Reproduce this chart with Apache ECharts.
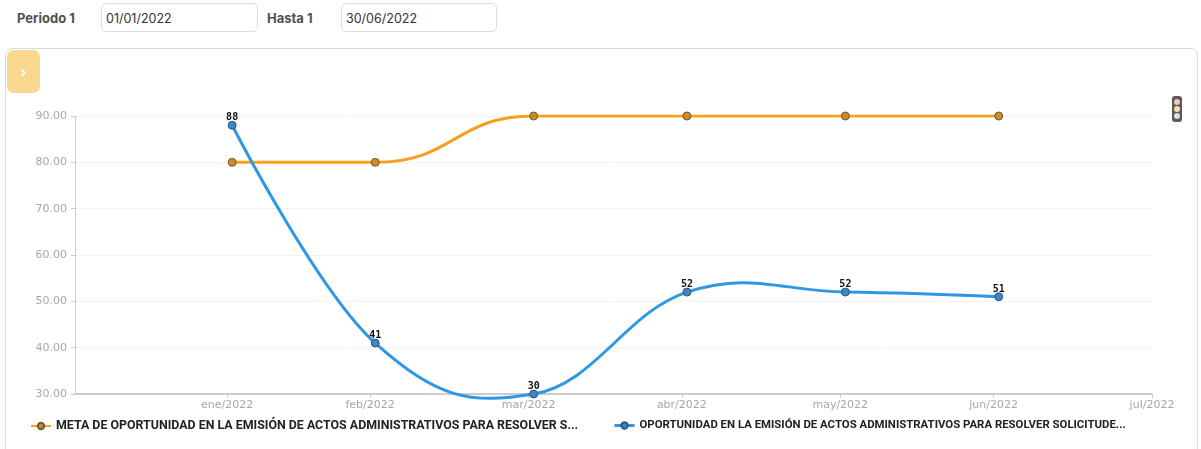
<!DOCTYPE html>
<html>
<head>
<meta charset="utf-8">
<script src="https://cdn.jsdelivr.net/npm/echarts@6/dist/echarts.min.js"></script>
<style>
  html, body { margin: 0; padding: 0; background: #fff; width: 1201px; height: 449px; overflow: hidden; font-family: Inter, "Open Sans", sans-serif; }
  .lbl { position: absolute; top: 10px; font-size: 13px; font-weight: 700; color: #505050; }
  .inp { position: absolute; top: 3px; height: 29px; border: 1px solid #dcdcdc; border-radius: 5px; box-sizing: border-box; font-size: 12.5px; color: #333; padding: 7px 0 0 4px; }
  #card { position: absolute; left: 5px; top: 48px; width: 1193px; height: 430px; border: 1px solid #dadada; border-radius: 7px; box-sizing: border-box; }
  #tab { position: absolute; left: 7px; top: 50px; width: 33px; height: 43px; background: #f9d78d; border-radius: 7px; z-index: 3; color: #fff; font-weight: 700; font-size: 14px; text-align: center; line-height: 43px; }
  #light { position: absolute; left: 1172px; top: 96px; width: 10px; height: 26px; background: #5a5a5a; border-radius: 3px; z-index: 3; }
  #light div { position: absolute; left: 2px; width: 6px; height: 6px; border-radius: 3px; }
  #chart { position: absolute; left: 0; top: 0; width: 1201px; height: 449px; z-index: 2; }
</style>
</head>
<body>
<div class="lbl" style="left:17px;">Periodo 1</div>
<div class="inp" style="left:101px;width:157px;">01/01/2022</div>
<div class="lbl" style="left:267px;">Hasta 1</div>
<div class="inp" style="left:341px;width:156px;">30/06/2022</div>
<div id="card"></div>
<div id="tab">&#8250;</div>
<div id="light"><div style="top:3px;background:#f2c4c4;"></div><div style="top:10px;background:#efe3ae;"></div><div style="top:17px;background:#cfe6cf;"></div></div>
<div id="chart"></div>
<script>
// ---- data ----
// The reference's time axis puts each month's tick one month-length later,
// so point dates are kept as drawn on that axis.
const pointDates = ['2022-02-02', '2022-03-02', '2022-04-02', '2022-05-02', '2022-06-02', '2022-07-02'];
const metaValues = [80, 80, 90, 90, 90, 90];
const oportunidadValues = [88, 41, 30, 52, 52, 51];
const seriesNames = [
  'META DE OPORTUNIDAD EN LA EMISIÓN DE ACTOS ADMINISTRATIVOS PARA RESOLVER S...',
  'OPORTUNIDAD EN LA EMISIÓN DE ACTOS ADMINISTRATIVOS PARA RESOLVER SOLICITUDE...'
];
const monthAbbr = ['ene', 'feb', 'mar', 'abr', 'may', 'jun', 'jul', 'ago', 'sep', 'oct', 'nov', 'dic'];
const xMin = '2022-01-02T06:00:00Z';
const xMax = '2022-08-01T00:00:00Z';
const yMin = 30, yMax = 90, yInterval = 10;

const ORANGE = '#f7a01c', BLUE = '#2c97e2';

function pairs(dates, vals) { return dates.map((d, i) => [d + 'T00:00:00Z', vals[i]]); }
const oportunidadData = pairs(pointDates, oportunidadValues);

// Spline through the points (control points collinear through each point, smoothing 1.5)
function splineRender(params, api) {
  if (params.dataIndex !== 0) return null;
  const pts = oportunidadData.map(d => api.coord([new Date(d[0]).getTime(), d[1]]));
  const n = pts.length, s = 1.5, den = s + 1;
  const L = [], R = [];
  for (let i = 0; i < n; i++) {
    if (i === 0 || i === n - 1) { L[i] = pts[i].slice(); R[i] = pts[i].slice(); continue; }
    const [px, py] = pts[i], [lx, ly] = pts[i - 1], [nx, ny] = pts[i + 1];
    let lcx = (s * px + lx) / den, lcy = (s * py + ly) / den;
    let rcx = (s * px + nx) / den, rcy = (s * py + ny) / den;
    const corr = ((rcy - lcy) * (rcx - px)) / (rcx - lcx) + py - rcy;
    lcy += corr; rcy += corr;
    L[i] = [lcx, lcy]; R[i] = [rcx, rcy];
  }
  const children = [];
  for (let i = 1; i < n; i++) {
    children.push({
      type: 'bezierCurve',
      shape: { x1: pts[i - 1][0], y1: pts[i - 1][1], cpx1: R[i - 1][0], cpy1: R[i - 1][1], cpx2: L[i][0], cpy2: L[i][1], x2: pts[i][0], y2: pts[i][1] },
      style: { stroke: BLUE, lineWidth: 3, fill: null, lineCap: 'round' }
    });
  }
  return { type: 'group', children: children };
}

const chart = echarts.init(document.getElementById('chart'), null, { renderer: 'canvas' });
const legendText = { fontFamily: 'Roboto', fontSize: 12.4, fontWeight: 'bold', color: '#222' };
chart.setOption({
  useUTC: true,
  animation: false,
  grid: { left: 75, right: 49, top: 116, bottom: 55, containLabel: false },
  legend: [
    { data: [seriesNames[0]], left: 30, top: 420, padding: 0, itemWidth: 20, itemHeight: 8, textStyle: legendText },
    { data: [{ name: seriesNames[1], lineStyle: { color: BLUE, width: 3, opacity: 1 } }], left: 613, top: 420, padding: 0, itemWidth: 20, itemHeight: 8,
      textStyle: Object.assign({}, legendText, { fontSize: 11.4 }) }
  ],
  xAxis: {
    type: 'time',
    min: xMin, max: xMax,
    splitNumber: 7,
    axisLine: { lineStyle: { color: '#cccccc', width: 2 } },
    axisTick: { show: true, length: 4, lineStyle: { color: '#cccccc' } },
    splitLine: { show: false },
    axisLabel: {
      showMinLabel: false, showMaxLabel: true, hideOverlap: false,
      color: '#a6a6a6', fontFamily: 'DejaVu Sans', fontSize: 11, margin: 6,
      formatter: function (v) {
        const d = new Date(v);
        let m = d.getUTCMonth() - 1, y = d.getUTCFullYear();
        if (m < 0) { m = 11; y -= 1; }
        return monthAbbr[m] + '/' + y;
      }
    }
  },
  yAxis: {
    type: 'value', min: yMin, max: yMax, interval: yInterval,
    axisLine: { show: true, lineStyle: { color: '#cccccc' } },
    axisTick: { show: true, length: 4, lineStyle: { color: '#cccccc' } },
    splitLine: { lineStyle: { color: '#f2f2f2' } },
    axisLabel: { color: '#a6a6a6', fontFamily: 'DejaVu Sans', fontSize: 11, margin: 8, formatter: v => v.toFixed(2) }
  },
  series: [
    {
      name: seriesNames[0], type: 'line', data: pairs(pointDates, metaValues),
      smooth: 0.5, smoothMonotone: 'x',
      symbol: 'circle', symbolSize: 8,
      lineStyle: { color: ORANGE, width: 3 },
      itemStyle: { color: '#cf8a27', borderColor: '#6e5a3c', borderWidth: 1 },
      z: 2
    },
    {
      type: 'custom', data: oportunidadData, renderItem: splineRender,
      silent: true, clip: false, z: 3
    },
    {
      name: seriesNames[1], type: 'line', data: oportunidadData,
      symbol: 'circle', symbolSize: 8,
      lineStyle: { color: BLUE, width: 3, opacity: 0 },
      itemStyle: { color: '#3d86c0', borderColor: '#2b5a80', borderWidth: 1 },
      label: { show: true, position: 'top', distance: -2, color: '#111', fontFamily: 'DejaVu Sans Mono', fontWeight: 'bold', fontSize: 10 },
      z: 4
    }
  ]
});
</script>
</body>
</html>
